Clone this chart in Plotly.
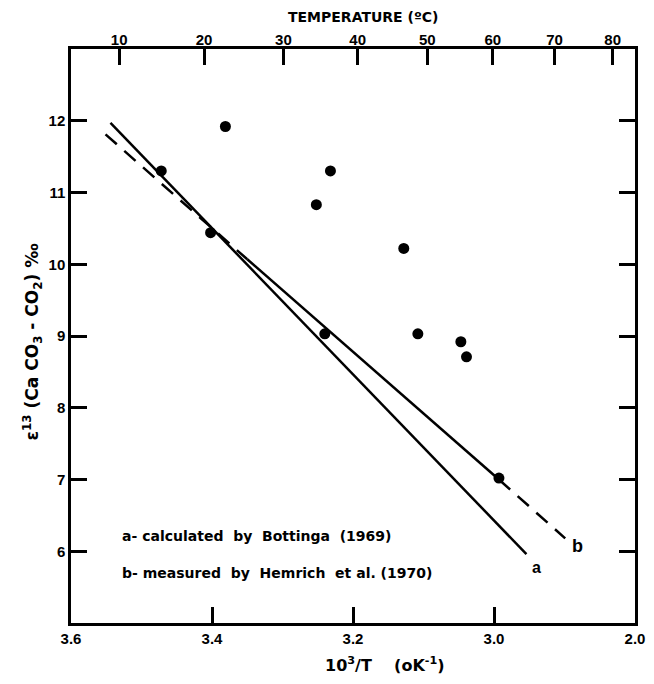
import plotly.graph_objects as go

# ---- data ----
temps_c = [10, 20, 30, 40, 50, 60, 70, 80]          # top axis (deg C)
x_tickvals = [3.6, 3.4, 3.2, 3.0, 2.8]
x_ticktext = ["3.6", "3.4", "3.2", "3.0", "2.0"]
y_tickvals = [6, 7, 8, 9, 10, 11, 12]

pts_x = [3.472, 3.402, 3.381, 3.252, 3.232, 3.240, 3.128, 3.108, 3.047, 3.039, 2.993]
pts_y = [11.30, 10.44, 11.92, 10.83, 11.30, 9.03, 10.22, 9.03, 8.92, 8.71, 7.02]

# line a (Bottinga 1969) - solid
a_x = [3.544, 2.954]
a_y = [11.97, 5.96]

# line b (Hemrich et al. 1970) - dashed ends, solid over measured range
b_dash1_x = [3.551, 3.350]
b_dash1_y = [11.81, 10.07]
b_solid_x = [3.350, 2.993]
b_solid_y = [10.07, 7.00]
b_dash2_x = [2.993, 2.899]
b_dash2_y = [7.00, 6.18]

FONT = "Liberation Sans"
WIDE = "DejaVu Sans"
LW = 2.5
NB = "\u00a0"

fig = go.Figure()
fig.add_trace(go.Scatter(x=a_x, y=a_y, mode="lines",
                         line=dict(color="black", width=LW), hoverinfo="skip"))
for xs, ys, dash in [(b_dash1_x, b_dash1_y, "15px,10px"),
                     (b_solid_x, b_solid_y, "solid"),
                     (b_dash2_x, b_dash2_y, "15px,10px")]:
    fig.add_trace(go.Scatter(x=xs, y=ys, mode="lines",
                             line=dict(color="black", width=LW, dash=dash),
                             hoverinfo="skip"))
fig.add_trace(go.Scatter(x=pts_x, y=pts_y, mode="markers",
                         marker=dict(color="black", size=11)))
# invisible trace to anchor the top axis
fig.add_trace(go.Scatter(x=[3.6, 2.8], y=[5, 5], xaxis="x2", mode="markers",
                         marker=dict(opacity=0), hoverinfo="skip"))

top_vals = [1000.0 / (t + 273.15) for t in temps_c]

tickfont = dict(family=FONT, size=15, color="black", weight="bold")

legend_a = f"a-{NB}calculated{NB}{NB}by{NB}{NB}Bottinga{NB}{NB}(1969)"
legend_b = f"b-{NB}measured{NB}{NB}by{NB}{NB}Hemrich{NB}{NB}et{NB}al.{NB}(1970)"

fig.update_layout(
    width=654, height=684,
    margin=dict(l=71, r=9, t=49, b=61),
    paper_bgcolor="white", plot_bgcolor="white",
    showlegend=False,
    xaxis=dict(range=[3.6, 2.8], tickvals=x_tickvals, ticktext=x_ticktext,
               ticks="inside", ticklen=16, tickwidth=LW, tickcolor="black",
               showline=True, linewidth=LW, linecolor="black", mirror=True,
               showgrid=False, zeroline=False, tickfont=tickfont),
    xaxis2=dict(range=[3.6, 2.8], overlaying="x", side="top", anchor="y",
                tickvals=top_vals, ticktext=[str(t) for t in temps_c],
                ticks="inside", ticklen=16, tickwidth=LW, tickcolor="black",
                showline=False, showgrid=False, zeroline=False, tickfont=tickfont),
    yaxis=dict(range=[5, 13], tickvals=y_tickvals,
               ticks="inside", ticklen=16, tickwidth=LW, tickcolor="black",
               showline=True, linewidth=LW, linecolor="black", mirror="ticks",
               showgrid=False, zeroline=False, tickfont=tickfont),
    annotations=[
        dict(text=f"TEMPERATURE{NB}(ºC)", xref="paper", yref="paper", x=0.519, y=1.056,
             showarrow=False, xanchor="center", yanchor="middle",
             font=dict(family=WIDE, size=14, color="black", weight="bold")),
        dict(text=f"10<sup>3</sup>/T{NB}{NB}{NB}{NB}(oK<sup>-1</sup>)", xref="paper",
             yref="paper", x=0.556, y=-0.072, showarrow=False,
             xanchor="center", yanchor="middle",
             font=dict(family=WIDE, size=16, color="black", weight="bold")),
        dict(text=f"ε<sup>13</sup>{NB}(Ca{NB}CO<sub>3</sub>{NB}-{NB}CO<sub>2</sub>){NB}‰",
             xref="paper", yref="paper", x=-0.068, y=0.49, textangle=-90,
             showarrow=False, xanchor="center", yanchor="middle",
             font=dict(family=WIDE, size=17, color="black", weight="bold")),
        dict(text=legend_a, x=3.53, y=6.21,
             xanchor="left", yanchor="middle", showarrow=False,
             font=dict(family=WIDE, size=14, color="black", weight="bold")),
        dict(text=legend_b, x=3.53, y=5.70,
             xanchor="left", yanchor="middle", showarrow=False,
             font=dict(family=WIDE, size=14, color="black", weight="bold")),
        dict(text="a", x=2.940, y=5.77, showarrow=False,
             xanchor="center", yanchor="middle",
             font=dict(family=FONT, size=16, color="black", weight="bold")),
        dict(text="b", x=2.881, y=6.08, showarrow=False,
             xanchor="center", yanchor="middle",
             font=dict(family=FONT, size=18, color="black", weight="bold")),
    ],
)

fig.write_html("out.html")
